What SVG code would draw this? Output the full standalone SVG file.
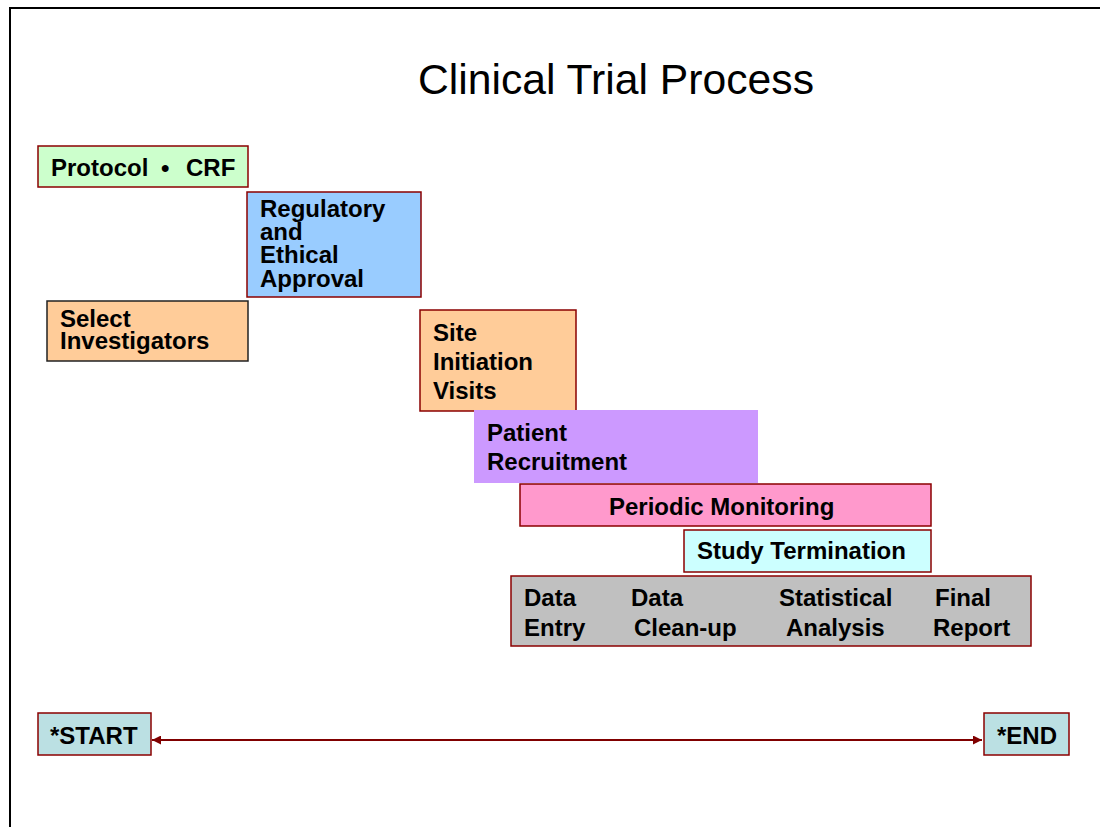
<svg xmlns="http://www.w3.org/2000/svg" width="1100" height="827" viewBox="0 0 1100 827">
<style>
.t{font-family:"Liberation Sans",Arial,sans-serif;font-weight:bold;font-size:24px;fill:#000}
.title{font-family:"Liberation Sans",Arial,sans-serif;font-size:43px;fill:#000}
.b{stroke:#8B0000;stroke-width:1.5}
</style>
<defs>
<marker id="ah" viewBox="0 0 10 10" refX="10" refY="5" markerWidth="5.5" markerHeight="4.5" orient="auto-start-reverse" markerUnits="strokeWidth">
<path d="M0,0 L10,5 L0,10 Z" fill="#800000"/>
</marker>
</defs>
<rect width="1100" height="827" fill="#fff"/>
<path d="M10,827 V8 H1100" fill="none" stroke="#000" stroke-width="2"/>
<text class="title" x="418" y="94" textLength="396" lengthAdjust="spacingAndGlyphs">Clinical Trial Process</text>
<g id="protocol">
<rect class="b" x="38" y="146" width="210" height="41" fill="#CCFFCC"/>
<text class="t" y="176"><tspan x="51">Protocol</tspan><tspan x="161">•</tspan><tspan x="186">CRF</tspan></text>
</g>
<g id="regulatory">
<rect class="b" x="247" y="192" width="174" height="105" fill="#99CCFF"/>
<text class="t"><tspan x="260" y="217">Regulatory</tspan><tspan x="260" y="240">and</tspan><tspan x="260" y="263">Ethical</tspan><tspan x="260" y="287">Approval</tspan></text>
</g>
<g id="select">
<rect x="47" y="301" width="201" height="60" fill="#FFCC99" stroke="#222" stroke-width="1.5"/>
<text class="t"><tspan x="60" y="327">Select</tspan><tspan x="60" y="349">Investigators</tspan></text>
</g>
<g id="site">
<rect class="b" x="420" y="310" width="156" height="101" fill="#FFCC99"/>
<text class="t"><tspan x="433" y="341">Site</tspan><tspan x="433" y="370">Initiation</tspan><tspan x="433" y="399">Visits</tspan></text>
</g>
<g id="patient">
<rect x="474" y="410" width="284" height="73" fill="#CC99FF"/>
<text class="t"><tspan x="487" y="441">Patient</tspan><tspan x="487" y="470">Recruitment</tspan></text>
</g>
<g id="monitoring">
<rect class="b" x="520" y="484" width="411" height="42" fill="#FF99CC"/>
<text class="t" x="609" y="515">Periodic Monitoring</text>
</g>
<g id="termination">
<rect class="b" x="684" y="530" width="247" height="42" fill="#CCFFFF"/>
<text class="t" x="697" y="559">Study Termination</text>
</g>
<g id="data">
<rect class="b" x="511" y="576" width="520" height="70" fill="#C0C0C0"/>
<text class="t"><tspan x="524" y="606">Data</tspan><tspan x="524" y="636">Entry</tspan></text>
<text class="t"><tspan x="631" y="606">Data</tspan><tspan x="634" y="636">Clean-up</tspan></text>
<text class="t"><tspan x="779" y="606">Statistical</tspan><tspan x="786" y="636">Analysis</tspan></text>
<text class="t"><tspan x="935" y="606">Final</tspan><tspan x="933" y="636">Report</tspan></text>
</g>
<g id="start">
<rect class="b" x="38" y="713" width="113" height="42" fill="#BBE0E3"/>
<text class="t" x="50" y="744">*START</text>
</g>
<g id="end">
<rect class="b" x="984" y="713" width="85" height="42" fill="#BBE0E3"/>
<text class="t" x="997" y="744">*END</text>
</g>
<g id="connectors">
<line x1="152" y1="740" x2="982" y2="740" stroke="#800000" stroke-width="2" marker-start="url(#ah)" marker-end="url(#ah)"/>
</g>
</svg>
